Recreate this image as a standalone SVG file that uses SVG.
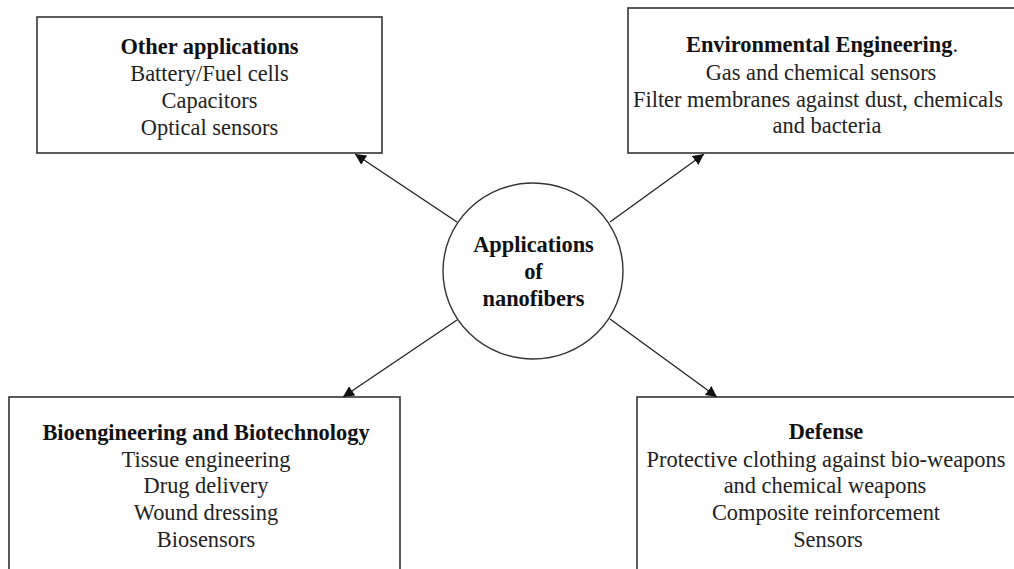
<svg xmlns="http://www.w3.org/2000/svg" width="1014" height="569" viewBox="0 0 1014 569">
<style>
.box{fill:#fff;stroke:#333;stroke-width:1.6}
.t{font-family:"Liberation Serif","Times New Roman",serif;font-size:22.4px;fill:#222;text-anchor:middle}
.b{font-weight:bold;fill:#111}
.c{stroke:#222;stroke-width:1.3;fill:none;marker-end:url(#ah)}
</style>
<defs>
<marker id="ah" viewBox="0 0 10 10" refX="10" refY="5" markerWidth="11" markerHeight="11" markerUnits="userSpaceOnUse" orient="auto">
<path d="M0,0 L10,5 L0,10 z" fill="#111"/>
</marker>
</defs>
<rect width="1014" height="569" fill="#fff"/>
<g id="other">
<rect class="box" x="37" y="17" width="345" height="136"/>
<text class="t b" x="209.5" y="54">Other applications</text>
<text class="t" x="209.5" y="81">Battery/Fuel cells</text>
<text class="t" x="209.5" y="108">Capacitors</text>
<text class="t" x="209.5" y="135">Optical sensors</text>
</g>
<g id="environmental">
<rect class="box" x="628" y="8" width="390" height="145"/>
<text class="t" x="822" y="52"><tspan class="b">Environmental Engineering</tspan>.</text>
<text class="t" x="821" y="80">Gas and chemical sensors</text>
<text class="t" x="818" y="107">Filter membranes against dust, chemicals</text>
<text class="t" x="827" y="133">and bacteria</text>
</g>
<g id="center">
<ellipse cx="533" cy="271" rx="90" ry="88" fill="#fff" stroke="#333" stroke-width="1.4"/>
<text class="t b" x="533.5" y="252">Applications</text>
<text class="t b" x="533.5" y="279">of</text>
<text class="t b" x="533.5" y="306">nanofibers</text>
</g>
<g id="bio">
<rect class="box" x="9" y="397" width="391" height="190"/>
<text class="t b" x="206" y="440">Bioengineering and Biotechnology</text>
<text class="t" x="206" y="467">Tissue engineering</text>
<text class="t" x="206" y="493">Drug delivery</text>
<text class="t" x="206" y="520">Wound dressing</text>
<text class="t" x="206" y="547">Biosensors</text>
</g>
<g id="defense">
<rect class="box" x="637" y="397" width="390" height="190"/>
<text class="t b" x="826" y="439">Defense</text>
<text class="t" x="826" y="467">Protective clothing against bio-weapons</text>
<text class="t" x="825" y="493">and chemical weapons</text>
<text class="t" x="826" y="520">Composite reinforcement</text>
<text class="t" x="828" y="547">Sensors</text>
</g>
<g id="connectors">
<line class="c" x1="457" y1="222" x2="355" y2="154"/>
<line class="c" x1="610" y1="222" x2="704" y2="154"/>
<line class="c" x1="457" y1="320" x2="343" y2="397"/>
<line class="c" x1="610" y1="319" x2="717" y2="397"/>
</g>
</svg>
